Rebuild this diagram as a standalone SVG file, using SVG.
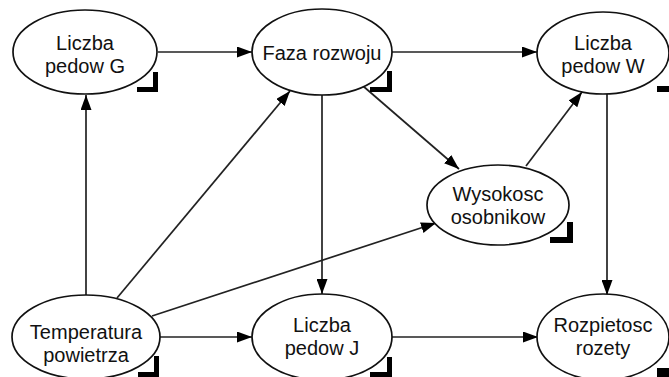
<svg xmlns="http://www.w3.org/2000/svg" width="669" height="377" viewBox="0 0 669 377">
<style>
.n ellipse{fill:#fff;stroke:#111;stroke-width:1.7}
.n text{font-family:"Liberation Sans",Arial,sans-serif;font-size:20px;fill:#111;text-anchor:middle}
.c line{stroke:#222;stroke-width:1.7;marker-end:url(#ah)}
.m{fill:#000}
</style>
<defs>
<marker id="ah" markerWidth="15" markerHeight="11" refX="15" refY="5.5" orient="auto" markerUnits="userSpaceOnUse">
<path d="M0,0 L15,5.5 L0,11 Z" fill="#000"/>
</marker>
</defs>
<rect width="669" height="377" fill="#fff"/>
<g class="c" id="connectors">
<line x1="158" y1="52" x2="252" y2="52"/>
<line x1="392" y1="52" x2="537" y2="52"/>
<line x1="86" y1="295" x2="86" y2="95"/>
<line x1="117" y1="298" x2="290" y2="91"/>
<line x1="152" y1="316" x2="436" y2="223"/>
<line x1="160" y1="337" x2="252" y2="337"/>
<line x1="322" y1="95" x2="322" y2="294"/>
<line x1="363" y1="86" x2="459" y2="169"/>
<line x1="526" y1="166" x2="582" y2="92"/>
<line x1="607" y1="94" x2="607" y2="295"/>
<line x1="392" y1="337" x2="538" y2="337"/>
</g>
<g class="n" id="liczba-pedow-g">
<ellipse cx="85" cy="52" rx="72" ry="42"/>
<text x="85" y="50">Liczba</text>
<text x="85" y="73">pedow G</text>
<path class="m" d="M153,72 H158 V92 H137 V87 H153 Z"/>
</g>
<g class="n" id="faza-rozwoju">
<ellipse cx="322" cy="52" rx="70" ry="43"/>
<text x="322" y="60">Faza rozwoju</text>
<path class="m" d="M387,71 H392 V92 H370 V87 H387 Z"/>
</g>
<g class="n" id="liczba-pedow-w">
<ellipse cx="603" cy="53" rx="66" ry="41"/>
<text x="603" y="50">Liczba</text>
<text x="603" y="73">pedow W</text>
<rect class="m" x="657" y="86" width="12" height="6"/>
</g>
<g class="n" id="wysokosc-osobnikow">
<ellipse cx="498" cy="205" rx="71" ry="40"/>
<text x="498" y="201">Wysokosc</text>
<text x="498" y="224">osobnikow</text>
<path class="m" d="M567,222 H573 V243 H550 V237 H567 Z"/>
</g>
<g class="n" id="temperatura-powietrza">
<ellipse cx="86" cy="337" rx="74" ry="42"/>
<text x="86" y="339">Temperatura</text>
<text x="86" y="362">powietrza</text>
<path class="m" d="M154,356 H159 V377 H138 V372 H154 Z"/>
</g>
<g class="n" id="liczba-pedow-j">
<ellipse cx="322" cy="337" rx="70" ry="43"/>
<text x="322" y="332">Liczba</text>
<text x="322" y="355">pedow J</text>
<path class="m" d="M387,357 H392 V377 H370 V372 H387 Z"/>
</g>
<g class="n" id="rozpietosc-rozety">
<ellipse cx="603" cy="337" rx="66" ry="43"/>
<text x="603" y="332">Rozpietosc</text>
<text x="603" y="355">rozety</text>
<rect class="m" x="657" y="368" width="12" height="9"/>
</g>
</svg>
